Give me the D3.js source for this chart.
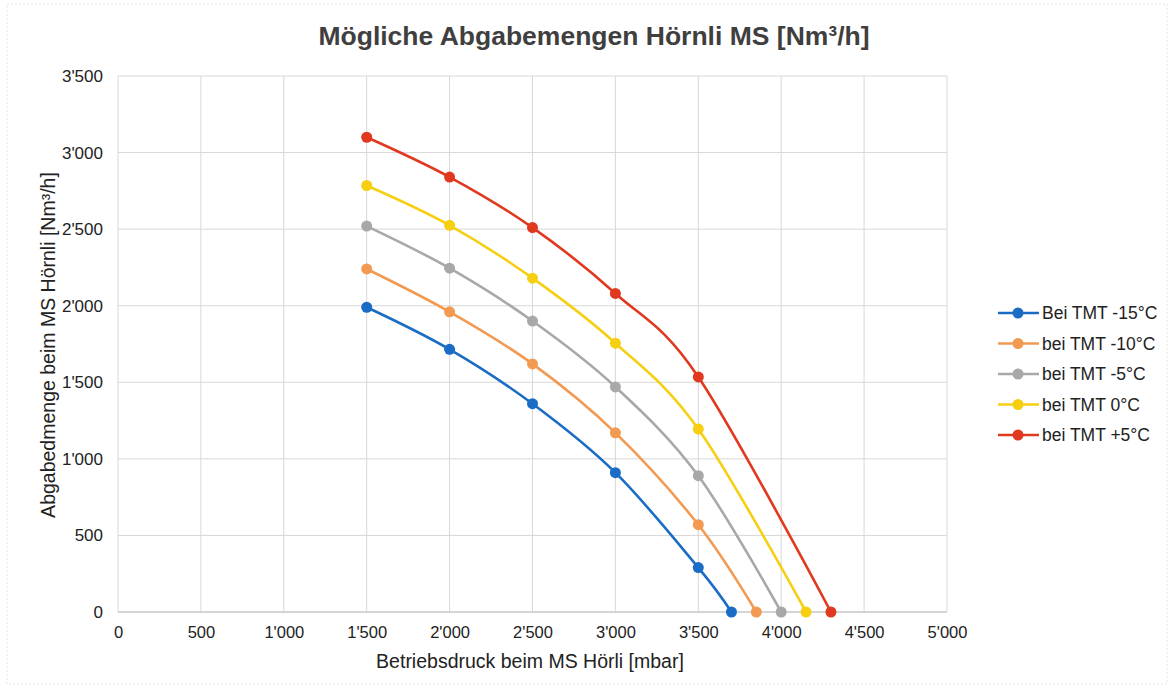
<!DOCTYPE html>
<html><head><meta charset="utf-8">
<script src="https://cdn.jsdelivr.net/npm/d3@7"></script>
<style>body{margin:0;background:#fff}svg{display:block;font-family:"Liberation Sans",Arial,sans-serif}</style>
</head><body><svg id="c" width="1171" height="688"></svg>
<script>
const seriesNames = ["Bei TMT -15°C","bei TMT -10°C","bei TMT -5°C","bei TMT 0°C","bei TMT +5°C"];
const seriesColors = ["#1a6cc4","#f29a52","#a8a8a8","#f7cf12","#e0391f"];
const xMinus15 = [1500,2000,2500,3000,3500,3700];
const yMinus15 = [1990,1715,1360,910,290,0];
const xMinus10 = [1500,2000,2500,3000,3500,3850];
const yMinus10 = [2240,1960,1620,1170,570,0];
const xMinus5 = [1500,2000,2500,3000,3500,4000];
const yMinus5 = [2520,2245,1900,1470,890,0];
const xZero = [1500,2000,2500,3000,3500,4150];
const yZero = [2785,2525,2180,1755,1195,0];
const xPlus5 = [1500,2000,2500,3000,3500,4300];
const yPlus5 = [3100,2840,2510,2080,1535,0];
const xTicks = [0,500,1000,1500,2000,2500,3000,3500,4000,4500,5000];
const yTicks = [0,500,1000,1500,2000,2500,3000,3500];
const xs=[xMinus15,xMinus10,xMinus5,xZero,xPlus5], ys=[yMinus15,yMinus10,yMinus5,yZero,yPlus5];

const svg=d3.select("#c");
const L=118,R=947,T=76,B=612;
const x=d3.scaleLinear().domain([0,5000]).range([L,R]);
const y=d3.scaleLinear().domain([0,3500]).range([B,T]);
const fmt=v=>d3.format(",")(v).replace(/,/g,"'");

svg.append("rect").attr("x",7).attr("y",4).attr("width",1160).attr("height",680).attr("fill","none").attr("stroke","#e4e4e4").attr("stroke-dasharray","2,2");

// grid
svg.append("g").selectAll("line").data(xTicks).join("line")
  .attr("x1",d=>x(d)).attr("x2",d=>x(d)).attr("y1",T).attr("y2",B).attr("stroke","#d8d8d8").attr("stroke-width",1);
svg.append("g").selectAll("line").data(yTicks).join("line")
  .attr("x1",L).attr("x2",R).attr("y1",d=>y(d)).attr("y2",d=>y(d)).attr("stroke","#d8d8d8").attr("stroke-width",1);
svg.append("line").attr("x1",L).attr("x2",R).attr("y1",B).attr("y2",B).attr("stroke","#bdbdbd");

const xa=svg.append("g").attr("transform",`translate(0,${B})`).call(d3.axisBottom(x).tickValues(xTicks).tickFormat(fmt).tickSize(0).tickPadding(14));
xa.select(".domain").remove();
xa.selectAll("text").attr("font-size",16.5).attr("fill","#222").attr("font-family","Liberation Sans, Arial");
const ya=svg.append("g").attr("transform",`translate(${L-15},0)`).call(d3.axisLeft(y).tickValues(yTicks).tickFormat(fmt).tickSize(0).tickPadding(0));
ya.select(".domain").remove();
ya.selectAll("text").attr("font-size",17).attr("fill","#222").attr("font-family","Liberation Sans, Arial");

svg.append("text").attr("x",594).attr("y",45).attr("text-anchor","middle").attr("font-size",26.5).attr("font-weight","bold").attr("fill","#3f3f3f").text("Mögliche Abgabemengen Hörnli MS [Nm³/h]");
svg.append("text").attr("x",530).attr("y",668).attr("text-anchor","middle").attr("font-size",19.5).attr("fill","#222").text("Betriebsdruck beim MS Hörli [mbar]");
svg.append("text").attr("transform","translate(55,345) rotate(-90)").attr("text-anchor","middle").attr("font-size",19.5).attr("fill","#222").text("Abgabedmenge beim MS Hörnli [Nm³/h]");

const line=d3.line().curve(d3.curveCatmullRom.alpha(0)).x(d=>x(d[0])).y(d=>y(d[1]));
xs.forEach((xv,i)=>{
  const pts=xv.map((v,j)=>[v,ys[i][j]]);
  svg.append("path").datum(pts).attr("d",line).attr("fill","none").attr("stroke",seriesColors[i]).attr("stroke-width",2.6);
  svg.append("g").selectAll("circle").data(pts).join("circle").attr("cx",d=>x(d[0])).attr("cy",d=>y(d[1])).attr("r",5.5).attr("fill",seriesColors[i]);
});

const lg=svg.append("g");
seriesNames.forEach((n,i)=>{
  const yy=313+i*30.5;
  lg.append("line").attr("x1",998).attr("x2",1039).attr("y1",yy).attr("y2",yy).attr("stroke",seriesColors[i]).attr("stroke-width",2.6);
  lg.append("circle").attr("cx",1018).attr("cy",yy).attr("r",5.5).attr("fill",seriesColors[i]);
  lg.append("text").attr("x",1042).attr("y",yy+6).attr("font-size",17.5).attr("fill","#222").text(n);
});
</script></body></html>
